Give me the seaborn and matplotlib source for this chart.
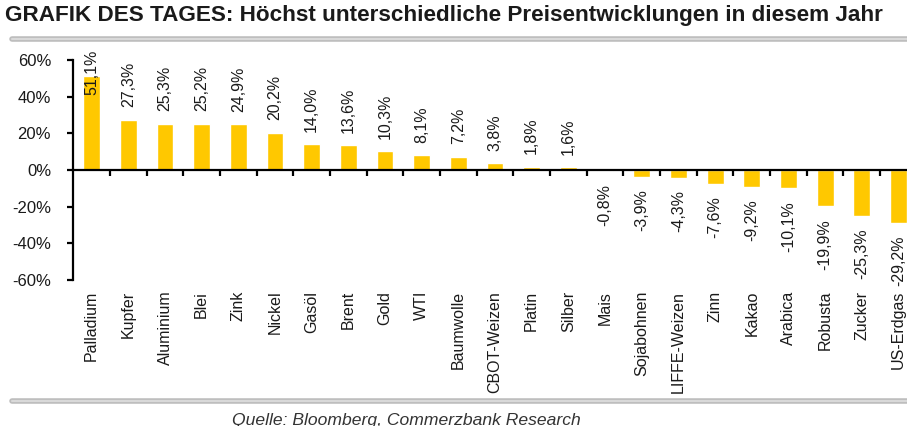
import numpy as np
import pandas as pd
import matplotlib
matplotlib.use("Agg")
import matplotlib.pyplot as plt
import seaborn as sns
from matplotlib.lines import Line2D

rohstoffe = [
    "Palladium", "Kupfer", "Aluminium", "Blei", "Zink", "Nickel", "Gasöl",
    "Brent", "Gold", "WTI", "Baumwolle", "CBOT-Weizen", "Platin", "Silber",
    "Mais", "Sojabohnen", "LIFFE-Weizen", "Zinn", "Kakao", "Arabica",
    "Robusta", "Zucker", "US-Erdgas",
]
veraenderung = [
    51.1, 27.3, 25.3, 25.2, 24.9, 20.2, 14.0, 13.6, 10.3, 8.1, 7.2, 3.8, 1.8,
    1.6, -0.8, -3.9, -4.3, -7.6, -9.2, -10.1, -19.9, -25.3, -29.2,
]
y_ticks = [-60, -40, -20, 0, 20, 40, 60]

df = pd.DataFrame({"Rohstoff": rohstoffe, "Veraenderung": veraenderung})

sns.set_style("white")
plt.rcParams["font.family"] = ["Liberation Sans", "DejaVu Sans"]

gelb = "#FFC800"
textfarbe = "#1a1a1a"

fig = plt.figure(figsize=(9.07, 4.26), dpi=100)
ax = fig.add_axes([0.0808, 0.343, 0.930, 0.516])

sns.barplot(data=df, x="Rohstoff", y="Veraenderung", color=gelb,
            width=0.46, saturation=1, ax=ax)

ax.set_ylim(-60, 60)
ax.set_xlim(-0.5, len(rohstoffe) - 0.5)
ax.set_yticks(y_ticks)
ax.set_yticklabels([f"{t}%" for t in y_ticks])
ax.set_xlabel("")
ax.set_ylabel("")

# x-Achse liegt auf der Nulllinie, Beschriftung unten
for s in ["top", "right"]:
    ax.spines[s].set_visible(False)
ax.spines["bottom"].set_position(("data", 0))
ax.spines["bottom"].set_linewidth(1.6)
ax.spines["bottom"].set_color("black")
ax.spines["left"].set_linewidth(1.6)
ax.spines["left"].set_color("black")

ax.set_xticks(range(len(rohstoffe)))
ax.set_xticklabels(rohstoffe, rotation=90, va="top", fontsize=11.5,
                   color=textfarbe)
ax.tick_params(axis="x", which="major", bottom=True, length=0, pad=87)
ax.set_xticks(np.arange(0.5, len(rohstoffe) - 1, 1), minor=True)
ax.tick_params(axis="x", which="minor", bottom=True, length=4, width=1.6,
               direction="out", color="black")
ax.tick_params(axis="y", left=True, length=4, width=1.6, direction="out",
               color="black", labelsize=12, labelcolor=textfarbe, pad=12)

# Werte an den Balken
for i, v in enumerate(veraenderung):
    txt = f"{v:.1f}%".replace(".", ",")
    if v >= 0:
        ax.annotate(txt, (i, min(v, 34)), xytext=(0, 9),
                    textcoords="offset points", rotation=90, ha="center",
                    va="bottom", fontsize=11.5, color=textfarbe,
                    annotation_clip=False)
    else:
        ax.annotate(txt, (i, v), xytext=(0, -9),
                    textcoords="offset points", rotation=90, ha="center",
                    va="top", fontsize=11.5, color=textfarbe,
                    annotation_clip=False)

fig.text(0.006, 0.963, "GRAFIK DES TAGES: Höchst unterschiedliche "
         "Preisentwicklungen in diesem Jahr", fontsize=16.2,
         fontweight="bold", color=textfarbe, va="center", ha="left")

# graue Trennlinien oben und unten
for yy in [0.909, 0.058]:
    fig.add_artist(Line2D([0.013, 1.0], [yy, yy], color="#bdbdbd",
                          linewidth=4, transform=fig.transFigure))
    fig.add_artist(Line2D([0.013, 1.0], [yy, yy], color="#d9d9d9",
                          linewidth=1.5, transform=fig.transFigure))

fig.text(0.256, -0.004, "Quelle: Bloomberg, Commerzbank Research",
         fontsize=12.6, style="italic", color="#333333", ha="left",
         va="bottom")

fig.savefig("out.png", dpi=100)
